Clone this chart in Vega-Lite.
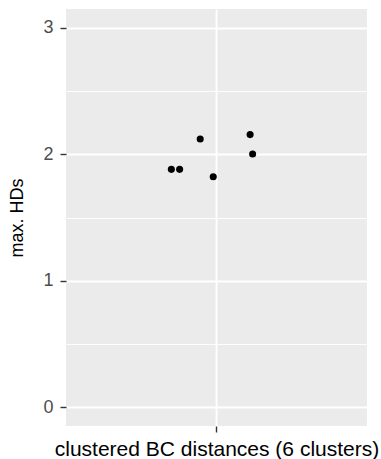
{
  "$schema": "https://vega.github.io/schema/vega-lite/v6.json",
  "width": 301,
  "height": 417,
  "autosize": {"type": "none"},
  "padding": {"left": 66, "top": 9, "right": 14, "bottom": 33},
  "background": "white",
  "config": {
    "view": {"fill": "#EBEBEB", "stroke": null},
    "font": "Liberation Sans"
  },
  "data": {
    "values": [
      {"pos": 0.935, "maxHD": 2.121},
      {"pos": 1.134, "maxHD": 2.156},
      {"pos": 1.144, "maxHD": 2.002},
      {"pos": 0.820, "maxHD": 1.881},
      {"pos": 0.853, "maxHD": 1.881},
      {"pos": 0.987, "maxHD": 1.823}
    ]
  },
  "mark": {"type": "circle", "color": "black", "opacity": 1, "size": 50},
  "encoding": {
    "x": {
      "field": "pos",
      "type": "quantitative",
      "scale": {"domain": [0.4, 1.6], "nice": false, "zero": false},
      "axis": {
        "values": [1],
        "labels": false,
        "title": "clustered BC distances (6 clusters)",
        "titleFont": "Liberation Sans",
        "titleFontSize": 21,
        "titleFontWeight": "normal",
        "titleColor": "black",
        "titlePadding": 6,
        "domain": false,
        "tickColor": "#333333",
        "tickSize": 6,
        "tickWidth": 1.4,
        "grid": true,
        "gridColor": "white",
        "gridWidth": 1.8
      }
    },
    "y": {
      "field": "maxHD",
      "type": "quantitative",
      "scale": {"domain": [-0.15, 3.15], "nice": false, "zero": false},
      "axis": {
        "values": [0, 0.5, 1, 1.5, 2, 2.5, 3],
        "labelExpr": "datum.value % 1 === 0 ? format(datum.value, 'd') : ''",
        "labelFont": "Liberation Sans",
        "labelFontSize": 18,
        "labelColor": "#4D4D4D",
        "labelPadding": 7,
        "title": "max. HDs",
        "titleFont": "Liberation Sans",
        "titleFontSize": 18,
        "titleFontWeight": "normal",
        "titleColor": "black",
        "titlePadding": 16,
        "domain": false,
        "tickColor": "#333333",
        "tickSize": 6,
        "tickWidth": 1.4,
        "tickOpacity": {"condition": {"test": "datum.value % 1 !== 0", "value": 0}, "value": 1},
        "grid": true,
        "gridColor": "white",
        "gridWidth": {"condition": {"test": "datum.value % 1 !== 0", "value": 0.9}, "value": 1.8}
      }
    }
  }
}
